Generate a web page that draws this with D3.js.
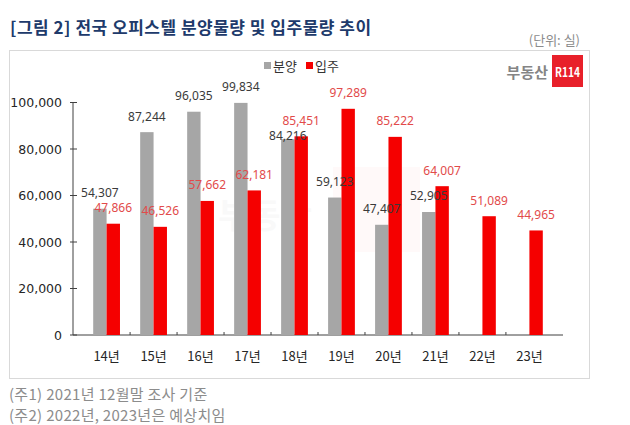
<!DOCTYPE html>
<html>
<head>
	<script src="https://d3js.org/d3.v7.min.js"></script>
	<meta charset="UTF-8">
	<style>
		body{
			margin: 0;
			background-color: #ffffff;
		}
		text{
			font-family: "Noto Sans CJK KR", "Noto Sans", sans-serif;
		}
	</style>
</head>
<body>
	<script type="text/javascript">
		var years = ["14년", "15년", "16년", "17년", "18년", "19년", "20년", "21년", "22년", "23년"];
		var sale = [54307, 87244, 96035, 99834, 84216, 59123, 47407, 52905, null, null];   // 분양
		var moveIn = [47866, 46526, 57662, 62181, 85451, 97289, 85222, 64007, 51089, 44965]; // 입주
		var seriesNames = ["분양", "입주"];
		var yTicks = [0, 20000, 40000, 60000, 80000, 100000];

		var w = 630;
		var h = 425;
		var plotL = 73, plotR = 563, plotT = 102.5, plotB = 335;

		var svg = d3.select("body").append("svg").attr("width", w).attr("height", h);

		var xScale = d3.scaleBand().domain(years).range([plotL, plotR]).padding(0.43);
		var x1 = d3.scaleBand().domain(seriesNames).range([0, xScale.bandwidth()]);
		var yScale = d3.scaleLinear().domain([0, 100000]).range([plotB, plotT]);
		var color = d3.scaleOrdinal().domain(seriesNames).range(["#a6a6a6", "#f50000"]);
		var labelColor = d3.scaleOrdinal().domain(seriesNames).range(["#3a3a3a", "#e24a4a"]);

		//제목
		svg.append("text").attr("x", 10).attr("y", 34).style("font-size", "17px").style("font-weight", "bold")
			.style("letter-spacing", "0.5px")
			.attr("fill", "#203a6b").text("[그림 2] 전국 오피스텔 분양물량 및 입주물량 추이");
		svg.append("text").attr("x", 580).attr("y", 45).attr("text-anchor", "end").style("font-size", "13px")
			.attr("fill", "#8c8c8c").text("(단위: 실)");

		//테두리
		svg.append("rect").attr("x", 9.5).attr("y", 50.5).attr("width", 580).attr("height", 328)
			.attr("fill", "none").attr("stroke", "#d9d9d9");

		//워터마크
		svg.append("rect").attr("x", 333).attr("y", 167).attr("width", 87).attr("height", 85).attr("fill", "#ff0000").attr("opacity", 0.025);
		svg.append("text").attr("x", 265).attr("y", 228).attr("text-anchor", "middle").style("font-size", "34px").style("font-weight", "bold")
			.attr("fill", "#000").attr("opacity", 0.02).text("부동산");

		//로고
		svg.append("text").attr("x", 548).attr("y", 77.5).attr("text-anchor", "end").style("font-size", "15px").style("font-weight", "bold")
			.attr("fill", "#858585").text("부동산");
		svg.append("rect").attr("x", 552).attr("y", 55).attr("width", 31).attr("height", 32).attr("fill", "#e8202a");
		svg.append("text").attr("x", 567.5).attr("y", 76.5).attr("text-anchor", "middle").style("font-size", "13px").style("font-weight", "bold")
			.attr("textLength", 25).attr("lengthAdjust", "spacingAndGlyphs")
			.attr("fill", "#ffffff").text("R114");

		//범례
		var legend = svg.append("g").attr("transform", "translate(264, 0)");
		seriesNames.forEach(function(s, i){
			var g = legend.append("g").attr("transform", "translate(" + (i * 42) + ", 0)");
			g.append("rect").attr("x", 0).attr("y", 62).attr("width", 7).attr("height", 7).attr("fill", color(s));
			g.append("text").attr("x", 9).attr("y", 71).style("font-size", "13px").attr("fill", "#333").text(s);
		});

		//축
		var yAxis = svg.append("g").attr("transform", "translate(" + plotL + ", 0)");
		yAxis.append("line").attr("x1", 0).attr("x2", 0).attr("y1", plotT).attr("y2", plotB).attr("stroke", "#404040");
		yTicks.forEach(function(t){
			yAxis.append("line").attr("x1", -3).attr("x2", 4).attr("y1", yScale(t)).attr("y2", yScale(t)).attr("stroke", "#404040");
			yAxis.append("text").attr("x", -11).attr("y", yScale(t) + 4.5).attr("text-anchor", "end")
				.style("font-family", "'DejaVu Sans', sans-serif").style("font-size", "12.5px").attr("fill", "#262626")
				.text(d3.format(",")(t));
		});

		var xAxis = svg.append("g").attr("transform", "translate(0, " + plotB + ")");
		xAxis.append("line").attr("x1", plotL).attr("x2", plotR).attr("y1", 0).attr("y2", 0).attr("stroke", "#404040");
		years.forEach(function(y, i){
			var bx = xScale(y) - xScale.step() * xScale.paddingInner() / 2 + xScale.step();
			if(i < years.length - 1){
				xAxis.append("line").attr("x1", bx).attr("x2", bx).attr("y1", -3).attr("y2", 0).attr("stroke", "#404040");
			}
			xAxis.append("text").attr("x", xScale(y) + xScale.bandwidth() / 2).attr("y", 26).attr("text-anchor", "middle")
				.style("font-size", "13px").attr("fill", "#262626").text(y);
		});

		//막대
		var rows = years.map(function(y, i){ return {year: y, values: [sale[i], moveIn[i]]}; });
		var groups = svg.selectAll(".grp").data(rows).enter().append("g").attr("class", "grp")
			.attr("transform", function(d){ return "translate(" + xScale(d.year) + ", 0)"; });
		var cells = groups.selectAll(".bar").data(function(d){
			return seriesNames.map(function(s, k){ return {name: s, value: d.values[k], other: d.values[1 - k]}; })
				.filter(function(c){ return c.value != null; });
		}).enter();
		cells.append("rect").attr("class", "bar")
			.attr("x", function(d){ return x1(d.name); })
			.attr("y", function(d){ return yScale(d.value); })
			.attr("width", x1.bandwidth())
			.attr("height", function(d){ return plotB - yScale(d.value); })
			.attr("fill", function(d){ return color(d.name); });

		//값 표시 (옆 막대 라벨과 겹치면 아래로 내림)
		function labelY(d){
			var y = yScale(d.value) - 11.5;
			if(d.name == "분양" && d.other != null && d.other > d.value){
				var oy = yScale(d.other) - 11.5;
				if(y - oy < 13) y = oy + 15;
			}
			return y;
		}
		cells.append("text")
			.attr("x", function(d){ return x1(d.name) + x1.bandwidth() / 2; })
			.attr("y", labelY)
			.attr("text-anchor", "middle")
			.style("font-family", "'Noto Sans', sans-serif").style("font-size", "12px")
			.attr("fill", function(d){ return labelColor(d.name); })
			.text(function(d){ return d3.format(",")(d.value); });

		//주석
		svg.append("text").attr("x", 9).attr("y", 400).style("font-size", "15px").style("letter-spacing", "0.3px").attr("fill", "#8c8c8c").text("(주1) 2021년 12월말 조사 기준");
		svg.append("text").attr("x", 9).attr("y", 421).style("font-size", "15px").style("letter-spacing", "0.3px").attr("fill", "#8c8c8c").text("(주2) 2022년, 2023년은 예상치임");
	</script>
</body>
</html>
